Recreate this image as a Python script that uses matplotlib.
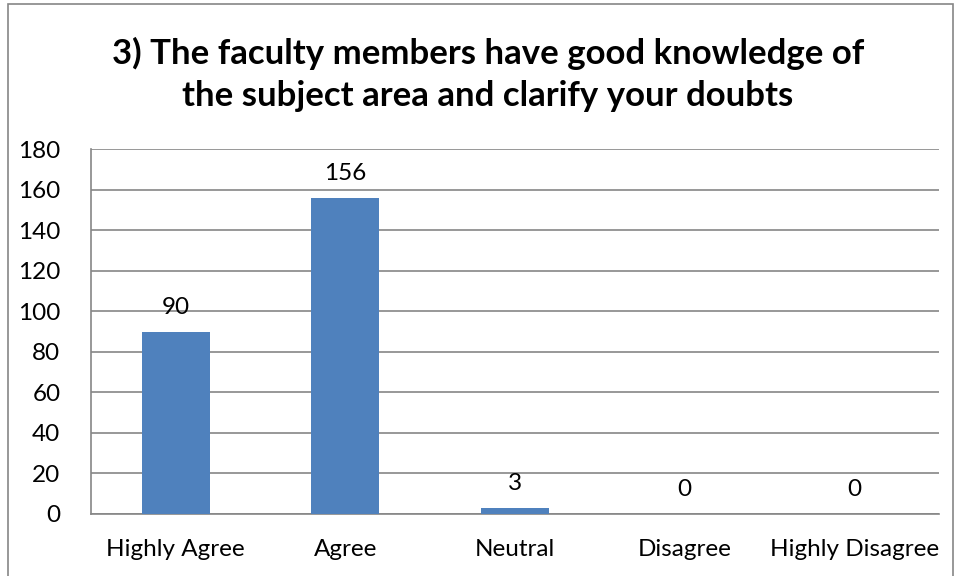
import matplotlib
matplotlib.use("Agg")
import matplotlib.pyplot as plt
from matplotlib.patches import Rectangle

categories = ["Highly Agree", "Agree", "Neutral", "Disagree", "Highly Disagree"]
values = [90, 156, 3, 0, 0]
yticks = [0, 20, 40, 60, 80, 100, 120, 140, 160, 180]
title = "3) The faculty members have good knowledge of\nthe subject area and clarify your doubts"

plt.rcParams['font.family'] = ['Lato', 'DejaVu Sans']

fig = plt.figure(figsize=(9.56, 5.76), dpi=100)
ax = fig.add_axes([91/956, 1 - 514/576, (939-91)/956, (514-149)/576])

x = list(range(len(categories)))
bars = ax.bar(x, values, width=0.4, color="#4F81BD", zorder=3)
ax.set_xlim(-0.5, len(categories) - 0.5)
ax.set_ylim(0, 180)
ax.set_yticks(yticks)
ax.set_xticks(x)
ax.set_xticklabels(categories, fontsize=17.5)
ax.tick_params(axis='y', labelsize=17.5, length=0, pad=22)
ax.tick_params(axis='x', length=0, pad=18)
ax.yaxis.grid(True, color="#868686", linewidth=1.2, zorder=0)
for s in ["top", "right"]:
    ax.spines[s].set_visible(False)
for s in ["left", "bottom"]:
    ax.spines[s].set_color("#868686")
    ax.spines[s].set_linewidth(1.2)

for xi, v in zip(x, values):
    ax.annotate(str(v), (xi, v), xytext=(0, 10), textcoords="offset points",
                ha="center", va="bottom", fontsize=17.5)

fig.text(488/956, 1 - 74/576, title, ha="center", va="center", fontsize=25,
         fontweight="bold", linespacing=1.38)

fig.patches.append(Rectangle((8/956, -0.01), (953-8)/956, 1 - 4/576 + 0.01,
                             transform=fig.transFigure, fill=False,
                             edgecolor="#868686", linewidth=1.2))

fig.savefig("out.png", dpi=100)
